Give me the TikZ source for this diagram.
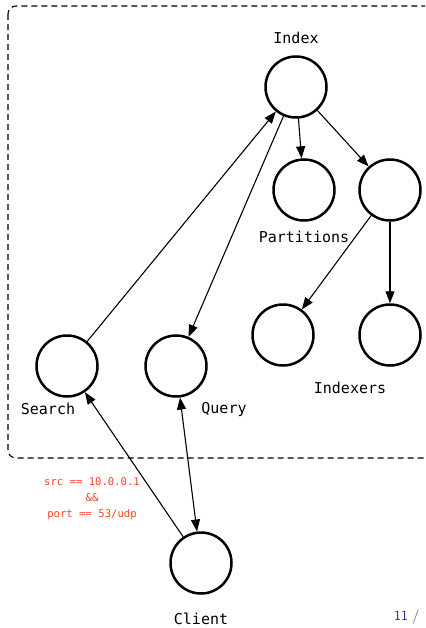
\documentclass[tikz,border=0pt]{standalone}
\usepackage{fontspec}
\setmonofont{DejaVu Sans Mono}
\usetikzlibrary{arrows.meta}
\definecolor{filterred}{RGB}{255,64,40}
\definecolor{pagenum}{RGB}{40,40,130}
\tikzset{
  blob/.style={circle, draw=black, line width=2.5pt, minimum size=61pt, inner sep=0pt},
  lbl/.style={font=\ttfamily\fontsize{15}{17}\selectfont, inner sep=0pt},
  arr/.style={line width=1.1pt, -{Triangle[length=12pt,width=9pt]}},
  darr/.style={line width=1.1pt, {Triangle[length=12pt,width=9pt]}-{Triangle[length=12pt,width=9pt]}},
  frame/.style={dashed, line width=1.1pt, dash pattern=on 6pt off 4pt, rounded corners=8pt}
}
\begin{document}
\begin{tikzpicture}[x=1pt,y=-1pt]
\useasboundingbox (0,0) rectangle (425,628);
\clip (0,0) rectangle (425,628);
\draw[frame] (8,6) rectangle (445,458);

\node[blob] (index) at (296,87) {};
\node[blob] (part) at (304,190) {};
\node[blob] (mid) at (390,190) {};
\node[blob] (ixa) at (283,335) {};
\node[blob] (ixb) at (390,335) {};
\node[blob] (search) at (67,366) {};
\node[blob] (query) at (176,366) {};
\node[blob] (client) at (201,563) {};

\node[lbl] (indexlbl) at (296,38) {Index};
\node[lbl] (partlbl) at (304,237) {Partitions};
\node[lbl] (ixlbl) at (350,388) {Indexers};
\node[lbl] (searchlbl) at (48,409) {Search};
\node[lbl] (querylbl) at (224,409) {Query};
\node[lbl] (clientlbl) at (201,619) {Client};

\node[font=\ttfamily\fontsize{10.6}{16}\selectfont, text=filterred, align=center, inner sep=0pt] (filter) at (92,499) {src == 10.0.0.1\\\&\&\\port == 53/udp};
\node[font=\sffamily\fontsize{14}{16}\selectfont, text=pagenum, anchor=west, inner sep=0pt] (pg) at (394,617) {11 /};

\draw[arr] (search) -- (index);
\draw[arr] (index) -- (query);
\draw[arr] (index) -- (part);
\draw[arr] (index) -- (mid);
\draw[arr] (mid) -- (ixa);
\draw[arr] (mid) -- (ixb);
\draw[arr] (client) -- (search);
\draw[darr] (query) -- (client);
\end{tikzpicture}
\end{document}
